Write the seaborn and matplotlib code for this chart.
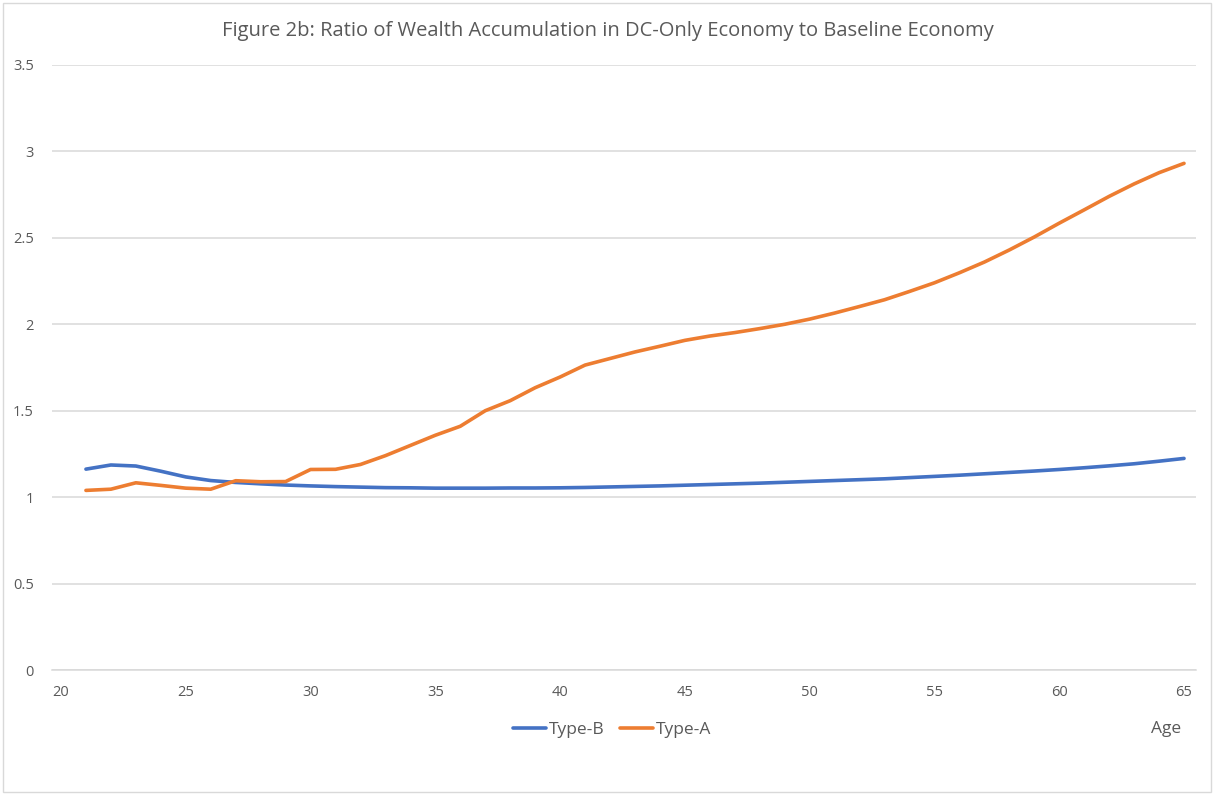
import pandas as pd
import numpy as np
import matplotlib
matplotlib.use("Agg")
import matplotlib.pyplot as plt
import seaborn as sns
from matplotlib.patches import Rectangle

sns.set_style("white")
plt.rcParams['font.family'] = ['Open Sans', 'DejaVu Sans']

# ages 21..65
ages = list(range(21, 66))

type_b = [1.162, 1.186, 1.180, 1.150, 1.117, 1.096, 1.085, 1.077, 1.070, 1.065,
          1.061, 1.058, 1.055, 1.054, 1.052, 1.052, 1.052, 1.053, 1.053, 1.054,
          1.056, 1.059, 1.062, 1.065, 1.069, 1.073, 1.077, 1.081, 1.086, 1.091,
          1.096, 1.101, 1.106, 1.113, 1.120, 1.127, 1.135, 1.143, 1.151, 1.160,
          1.170, 1.181, 1.193, 1.208, 1.224]

type_a = [1.039, 1.046, 1.083, 1.068, 1.052, 1.046, 1.095, 1.089, 1.090, 1.160,
          1.161, 1.189, 1.240, 1.299, 1.358, 1.410, 1.500, 1.558, 1.633, 1.695,
          1.764, 1.802, 1.840, 1.873, 1.907, 1.932, 1.952, 1.975, 2.000, 2.030,
          2.065, 2.103, 2.142, 2.190, 2.240, 2.298, 2.360, 2.430, 2.505, 2.585,
          2.662, 2.740, 2.812, 2.877, 2.931]

series_names = ["Type-B", "Type-A"]
colors = {"Type-B": "#4472C4", "Type-A": "#ED7D31"}
x_ticks = [20, 25, 30, 35, 40, 45, 50, 55, 60, 65]
y_ticks = [0, 0.5, 1, 1.5, 2, 2.5, 3, 3.5]
y_labels = ["0", "0.5", "1", "1.5", "2", "2.5", "3", "3.5"]

df = pd.DataFrame({
    "Age": ages * 2,
    "Ratio": type_b + type_a,
    "Series": ["Type-B"] * len(ages) + ["Type-A"] * len(ages),
})

text_col = "#595959"
grid_col = "#D9D9D9"

fig = plt.figure(figsize=(12.15, 7.94), dpi=100)
ax = fig.add_axes([52 / 1215, 1 - 670 / 794, (1196 - 52) / 1215, (670 - 65) / 794])

sns.lineplot(data=df, x="Age", y="Ratio", hue="Series", hue_order=series_names,
             palette=colors, linewidth=2.6, ax=ax, legend=False)

ax.set_xlim(19.64, 65.48)
ax.set_ylim(0, 3.5)
ax.set_xticks(x_ticks)
ax.set_yticks(y_ticks)
ax.set_yticklabels(y_labels)
ax.set_xlabel("")
ax.set_ylabel("")
ax.yaxis.grid(True, color=grid_col, linewidth=1.1)
ax.set_axisbelow(True)
for side in ["top", "right", "left"]:
    ax.spines[side].set_visible(False)
ax.spines["bottom"].set_color(grid_col)
ax.spines["bottom"].set_linewidth(1.1)
ax.tick_params(axis="both", length=0, labelsize=10.5, colors=text_col)
ax.tick_params(axis="x", pad=11)
ax.tick_params(axis="y", pad=13)

fig.text(0.5, 1 - 31 / 794, "Figure 2b: Ratio of Wealth Accumulation in DC-Only Economy to Baseline Economy",
         ha="center", va="center", fontsize=14.5, color=text_col)

handles = [plt.Line2D([], [], color=colors[s], linewidth=2.6) for s in series_names]
fig.legend(handles, series_names, loc="center", bbox_to_anchor=(612 / 1215, 1 - 730 / 794),
           ncol=2, frameon=False, fontsize=12.5, labelcolor=text_col,
           handlelength=1.9, handletextpad=0.15, columnspacing=0.9)

fig.text(1166 / 1215, 1 - 729 / 794, "Age", ha="center", va="center", fontsize=12.5, color=text_col)

# chart border
fig.patches.append(Rectangle((3 / 1215, 2 / 794), 1208 / 1215, 789 / 794, transform=fig.transFigure,
                             fill=False, edgecolor=grid_col, linewidth=1.0))

fig.savefig("out.png", dpi=100)
